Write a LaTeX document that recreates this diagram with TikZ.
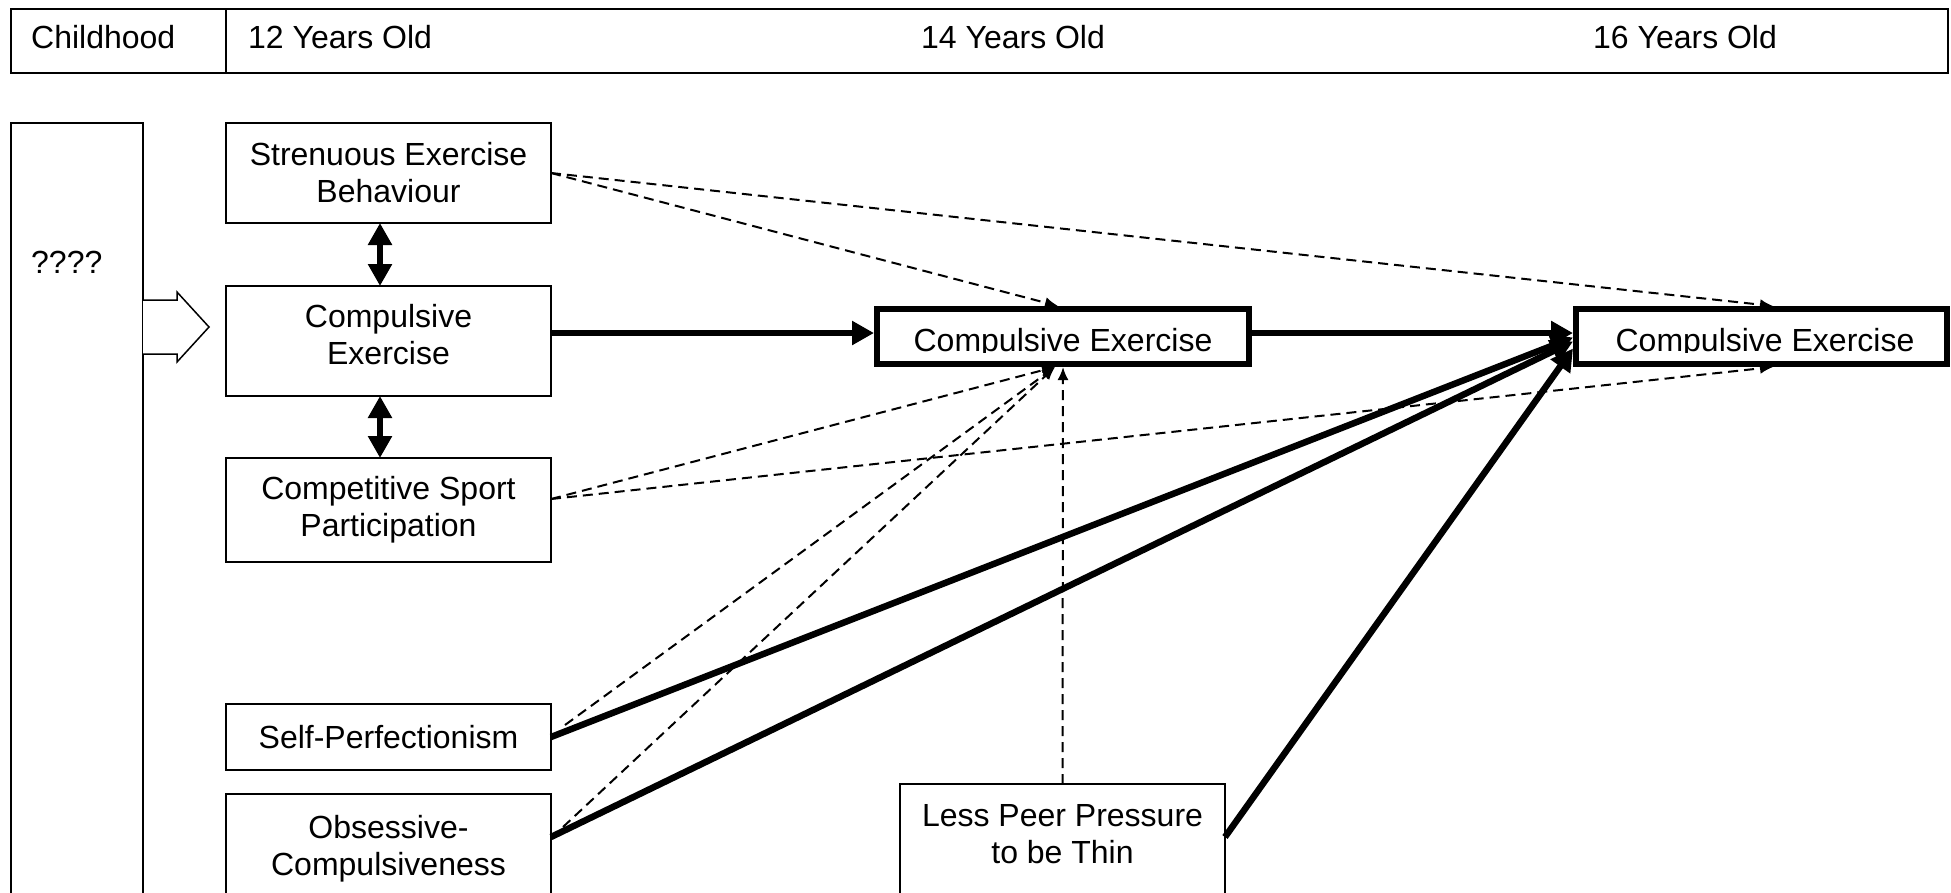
\documentclass[tikz,border=0pt]{standalone}
\usepackage{fontspec}
\setmainfont{Liberation Sans}
\usetikzlibrary{arrows.meta}
\begin{document}
\begin{tikzpicture}[x=1pt,y=-1pt,
  cell/.style={draw, line width=2pt, rectangle, inner sep=0pt, outer sep=0pt},
  box/.style={draw, line width=1.5pt, rectangle, inner sep=0pt, outer sep=0pt, align=center, font=\fontsize{32}{37}\selectfont},
  thickbox/.style={draw, line width=6pt, rectangle, inner sep=0pt},
  txt/.style={inner sep=0pt, align=center, font=\fontsize{32}{37}\selectfont},
  dasharr/.style={line width=2pt, dash pattern=on 10pt off 6pt, -{Latex[length=13pt,width=11pt]}},
  thickarr/.style={line width=6.5pt, -{Triangle[length=22pt,width=23pt]}},
  dblarr/.style={line width=6pt, {Triangle[length=22pt,width=23pt]}-{Triangle[length=22pt,width=23pt]}},
  hollow/.style={draw, line width=1.5pt, fill=white}
]
\useasboundingbox (0,0) rectangle (1951,892);

% header table
\node[cell, minimum width=215pt, minimum height=64pt] (child) at (118.5,41) {};
\node[cell, minimum width=1722pt, minimum height=64pt] (ages) at (1087,41) {};
\node[txt, anchor=west] (tchild) at (31,37) {Childhood};
\node[txt, anchor=west] (t12) at (248,37) {12 Years Old};
\node[txt] (t14) at (1013,37) {14 Years Old};
\node[txt] (t16) at (1685,37) {16 Years Old};

% left box
\node[box, minimum width=132pt, minimum height=800pt, anchor=north west] (qbox) at (11,123) {};
\node[txt, anchor=west] (tq) at (31,262) {????};
\draw[hollow] (143,300) -- (177,300) -- (177,292) -- (209,327) -- (177,362) -- (177,354) -- (143,354);

% 12 years column
\node[box, minimum width=325pt, minimum height=100pt] (stren) at (388.5,173) {Strenuous Exercise\\Behaviour};
\node[box, minimum width=325pt, minimum height=110pt] (ce12) at (388.5,341) {};
\node[txt] (tce12) at (388.5,335) {Compulsive\\Exercise};
\node[box, minimum width=325pt, minimum height=104pt] (comp) at (388.5,510) {Competitive Sport\\Participation};
\node[box, minimum width=325pt, minimum height=66pt] (sp) at (388.5,737) {Self-Perfectionism};
\node[box, minimum width=325pt, minimum height=120pt, anchor=north] (obs) at (388.5,794) {};
\node[txt] (tobs) at (388.5,848.5) {Obsessive-\\Compulsiveness};

% less peer pressure
\node[box, minimum width=325pt, minimum height=120pt, anchor=north] (lpp) at (1062.5,784) {};
\node[txt] (tlpp) at (1062.5,834.5) {Less Peer Pressure\\to be Thin};

% outcome boxes
\node[thickbox, minimum width=372pt, minimum height=55pt] (ce14) at (1063,336.5) {};
\begin{scope}
  \clip (877,309) rectangle (1249,352.5);
  \node[txt, anchor=base] (tce14) at (1063,351) {Compulsive Exercise};
\end{scope}
\node[thickbox, minimum width=371pt, minimum height=55pt] (ce16) at (1761.5,336.5) {};
\begin{scope}
  \clip (1576,309) rectangle (1947,352.5);
  \node[txt, anchor=base] (tce16) at (1765,351) {Compulsive Exercise};
\end{scope}

% double arrows
\draw[dblarr] ([xshift=-8.5pt]stren.south) -- ([xshift=-8.5pt]ce12.north);
\draw[dblarr] ([xshift=-8.5pt]ce12.south) -- ([xshift=-8.5pt]comp.north);

% dashed paths
\draw[dasharr] (stren.east) -- ([xshift=-5pt]ce14.north);
\draw[dasharr] (stren.east) -- ([xshift=11.5pt]ce16.north);
\draw[dasharr] ([yshift=11pt]comp.east) -- ([xshift=-8pt]ce14.south);
\draw[dasharr] ([yshift=11pt]comp.east) -- ([xshift=11.5pt]ce16.south);
\draw[dasharr] ([xshift=14pt,yshift=12pt]sp.east) -- ([xshift=-8pt]ce14.south);
\draw[dasharr] ([xshift=12pt,yshift=27pt]obs.east) -- ([xshift=-8pt]ce14.south);
\draw[dasharr] (lpp.north) -- (ce14.south);

% thick paths
\draw[thickarr] ([yshift=8pt]ce12.east) -- ([yshift=3.5pt]ce14.west);
\draw[thickarr] ([yshift=3.5pt]ce14.east) -- ([yshift=3.5pt]ce16.west);
\draw[thickarr] (sp.east) -- ([yshift=-1pt]ce16.west);
\draw[thickarr] ([yshift=17pt]obs.east) -- ([yshift=-5pt]ce16.west);
\draw[thickarr] ([yshift=7pt]lpp.east) -- ([yshift=-12pt]ce16.west);
\end{tikzpicture}
\end{document}
